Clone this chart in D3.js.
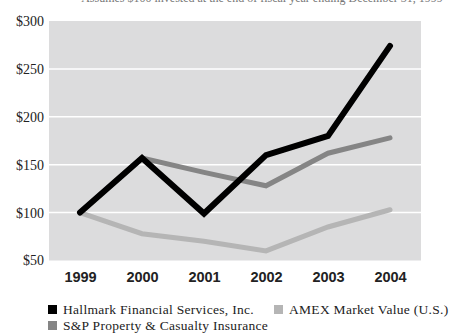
<!DOCTYPE html>
<html>
<head>
<meta charset="utf-8">
<script src="https://cdn.jsdelivr.net/npm/d3@7"></script>
<style>
  body { margin: 0; background: #fff; }
  svg { display: block; }
</style>
</head>
<body>
<div id="chart"></div>
<script>
const width = 456;
const height = 333;

// data
const years = ["1999", "2000", "2001", "2002", "2003", "2004"];
const hallmark = [100, 157, 99, 160, 180, 274];
const spInsurance = [100, 157, 142, 128, 162, 178];
const amex = [100, 78, 70, 60, 85, 103];
const yTicks = [50, 100, 150, 200, 250, 300];

const series = [
    { name: "AMEX Market Value (U.S.)", values: amex, color: "#b5b5b5", width: 5 },
    { name: "S&P Property & Casualty Insurance", values: spInsurance, color: "#858585", width: 5 },
    { name: "Hallmark Financial Services, Inc.", values: hallmark, color: "#000000", width: 6 }
];

const plot = { left: 49, right: 421, top: 21, bottom: 260.5 };

const svg = d3.select("#chart").append("svg")
    .attr("width", width)
    .attr("height", height);

// caption line, cut off by the top edge as in the source
svg.append("text")
    .attr("x", 262)
    .attr("y", 2)
    .attr("text-anchor", "middle")
    .attr("font-family", "Liberation Serif, serif")
    .attr("font-size", 12)
    .attr("fill", "#777")
    .text("Assumes $100 invested at the end of fiscal year ending December 31, 1999");

const x = d3.scalePoint()
    .domain(years)
    .range([plot.left, plot.right])
    .padding(0.5);

const y = d3.scaleLinear()
    .domain([50, 300])
    .range([plot.bottom, plot.top]);

svg.append("rect")
    .attr("x", plot.left)
    .attr("y", plot.top)
    .attr("width", plot.right - plot.left)
    .attr("height", plot.bottom - plot.top)
    .attr("fill", "#dcdcdd");

// gridlines
svg.append("g")
    .selectAll("line")
    .data(yTicks.filter(d => d > 50 && d < 300))
    .enter()
    .append("line")
    .attr("x1", plot.left)
    .attr("x2", plot.right)
    .attr("y1", d => y(d))
    .attr("y2", d => y(d))
    .attr("stroke", "#fff")
    .attr("stroke-width", 1.5);

// y axis labels
const yAxis = svg.append("g")
    .attr("transform", `translate(${plot.left - 5}, 0)`)
    .call(d3.axisLeft(y).tickValues(yTicks).tickSize(0).tickPadding(0).tickFormat(d => "$" + d));
yAxis.select(".domain").remove();
yAxis.selectAll("text")
    .attr("font-family", "Liberation Serif, serif")
    .attr("font-size", 14)
    .attr("fill", "#222");

// x axis labels
const xAxis = svg.append("g")
    .attr("transform", `translate(0, ${plot.bottom})`)
    .call(d3.axisBottom(x).tickSize(0).tickPadding(11));
xAxis.select(".domain").remove();
xAxis.selectAll("text")
    .attr("font-family", "Liberation Sans, Arial, sans-serif")
    .attr("font-weight", "bold")
    .attr("font-size", 14.5)
    .attr("fill", "#222");

const line = d3.line()
    .x((d, i) => x(years[i]))
    .y(d => y(d));

svg.append("g")
    .selectAll("path")
    .data(series)
    .enter()
    .append("path")
    .attr("d", d => line(d.values))
    .attr("fill", "none")
    .attr("stroke", d => d.color)
    .attr("stroke-width", d => d.width)
    .attr("stroke-linejoin", "miter")
    .attr("stroke-linecap", "round");

// legend
const legendItems = [
    { name: "Hallmark Financial Services, Inc.", color: "#000000", x: 48, y: 314 },
    { name: "AMEX Market Value (U.S.)", color: "#b5b5b5", x: 274, y: 314 },
    { name: "S&P Property & Casualty Insurance", color: "#858585", x: 48, y: 330 }
];

const legend = svg.append("g")
    .selectAll("g")
    .data(legendItems)
    .enter()
    .append("g")
    .attr("transform", d => `translate(${d.x}, ${d.y})`);

legend.append("rect")
    .attr("x", 0)
    .attr("y", -9)
    .attr("width", 9)
    .attr("height", 9)
    .attr("fill", d => d.color);

legend.append("text")
    .attr("x", 15)
    .attr("y", 0)
    .attr("font-family", "Liberation Serif, serif")
    .attr("font-size", 13.5)
    .attr("letter-spacing", 0.3)
    .attr("fill", "#222")
    .text(d => d.name);
</script>
</body>
</html>
